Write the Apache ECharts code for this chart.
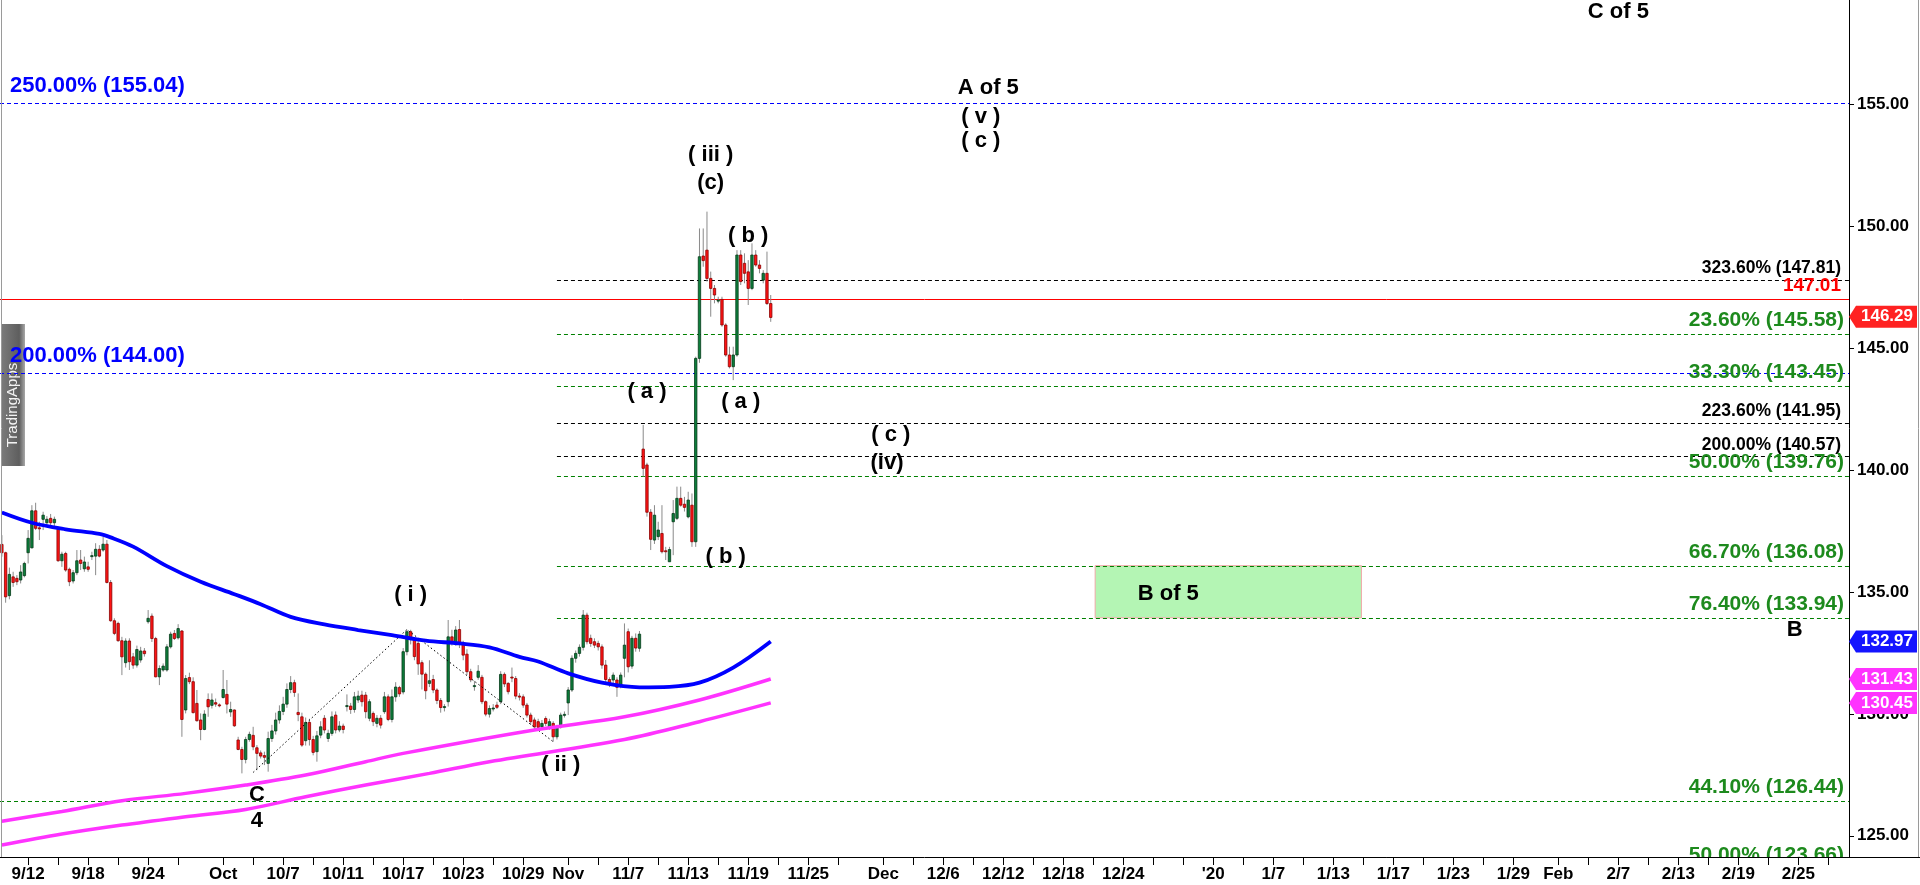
<!DOCTYPE html>
<html>
<head>
<meta charset="utf-8">
<script src="https://cdn.jsdelivr.net/npm/echarts@6/dist/echarts.min.js"></script>
<style>
html,body{margin:0;padding:0;background:#ffffff;}
#chart{width:1920px;height:885px;}
</style>
</head>
<body>
<div id="chart"></div>
<script>
const FONT = '"Liberation Sans", Arial, Helvetica, sans-serif';
const SLOTS = 493;          // 4 bar slots per trading day
const FIRST_DAY_SLOT = 7;   // first bar of 9/12
const BARS_PER_DAY = 4;

// ---- x axis (trading-day indices counted from 9/12) ----
const xLabels = ['9/12','9/18','9/24','Oct','10/7','10/11','10/17','10/23','10/29','Nov','11/7','11/13','11/19','11/25','Dec','12/6','12/12','12/18','12/24',"'20",'1/7','1/13','1/17','1/23','1/29','Feb','2/7','2/13','2/19','2/25'];
const xLabelDays = [0,4,8,13,17,21,25,29,33,36,40,44,48,52,57,61,65,69,73,79,83,87,91,95,99,102,106,110,114,118];
const xExtraTickDays = [2,6,10,15,19,23,27,31,38,42,46,50,54,59,63,67,71,75,77,81,85,89,93,97,104,108,112,116,120];

// ---- price bars: [open, high, low, close], one per slot from slot 0 ----
const ohlc = [
[136.95,137.33,136.45,136.61],[136.61,136.65,134.56,134.80],[134.85,136.00,134.70,135.72],[135.62,135.83,135.21,135.39],
[135.56,135.69,135.28,135.42],[135.49,136.10,135.35,135.82],[135.67,136.24,135.60,136.17],[136.61,137.54,136.17,137.20],
[136.81,138.56,136.79,138.33],[138.33,138.66,137.54,137.61],[137.63,137.88,137.13,137.60],[137.98,138.29,137.54,138.15],
[137.84,138.11,137.68,137.98],[138.02,138.20,137.74,137.84],[137.84,138.09,137.68,137.98],[137.57,137.68,136.24,136.28],
[136.28,136.65,136.03,136.55],[136.58,136.65,135.83,135.90],[135.93,136.00,135.24,135.42],[135.45,135.90,135.35,135.79],
[135.79,136.72,135.69,136.28],[136.31,136.72,135.90,136.17],[135.95,136.45,135.83,136.23],[136.03,136.24,135.83,135.93],
[136.46,136.65,136.31,136.49],[136.47,137.00,135.69,136.75],[136.75,136.92,136.42,136.47],[136.72,137.27,136.65,136.96],
[136.96,137.13,135.35,135.39],[135.39,135.49,133.78,133.82],[133.82,133.92,133.23,133.30],[133.71,133.78,132.96,133.00],
[133.00,133.16,131.59,132.34],[132.10,133.10,131.90,132.99],[132.99,133.10,131.80,132.14],[132.34,132.50,131.85,132.00],
[132.00,132.80,131.90,132.64],[132.21,132.75,132.10,132.58],[132.58,132.70,132.35,132.47],[133.78,134.26,133.70,133.92],
[134.01,134.12,132.95,133.09],[133.09,133.16,131.50,131.52],[131.52,131.99,131.18,131.86],[131.80,132.07,131.73,131.96],
[131.80,132.86,131.73,132.75],[132.75,133.37,132.68,133.27],[133.30,133.44,133.03,133.09],[133.12,133.68,133.05,133.50],
[133.40,133.44,129.06,129.77],[130.16,131.59,130.02,131.45],[131.49,131.69,131.22,131.32],[131.32,131.50,130.02,130.05],
[130.43,130.98,129.68,129.72],[129.75,130.02,128.92,129.36],[129.36,130.15,129.33,129.99],[130.59,130.84,129.88,130.29],
[130.35,130.84,130.22,130.57],[130.46,130.63,130.29,130.40],[130.37,130.43,130.27,130.33],[130.67,131.80,130.63,131.00],
[130.80,131.39,130.02,130.40],[130.08,130.50,129.88,130.18],[130.16,130.18,129.47,129.51],[128.93,129.06,128.51,128.54],
[128.54,128.65,127.56,128.13],[128.13,129.06,127.97,128.95],[128.95,129.27,128.86,129.16],[129.12,129.47,128.51,128.65],
[128.61,128.72,127.69,128.38],[128.40,128.50,128.17,128.27],[128.29,128.45,127.90,128.22],[127.97,129.27,127.63,128.99],
[128.99,129.55,128.85,129.30],[129.30,130.05,129.15,129.75],[129.75,130.35,129.60,130.10],[130.10,130.70,129.95,130.40],
[130.40,131.25,130.25,131.00],[131.00,131.55,130.85,131.28],[131.28,131.40,130.70,130.88],[130.06,130.84,129.70,129.97],
[129.88,130.05,128.65,128.72],[128.90,129.85,128.70,129.65],[129.65,129.80,128.70,128.95],[128.95,129.10,128.30,128.42],
[128.45,129.30,128.04,129.10],[129.13,129.70,129.00,129.47],[129.82,129.95,129.20,129.34],[128.99,129.35,128.85,129.20],
[129.20,130.10,129.10,129.88],[129.95,130.10,129.20,129.34],[129.34,129.70,129.25,129.50],[129.50,129.60,129.20,129.36],
[130.30,130.80,130.10,130.34],[130.32,130.45,130.00,130.18],[130.18,130.90,130.05,130.70],[130.57,130.95,130.45,130.73],
[130.77,130.95,130.30,130.50],[130.77,130.90,129.82,130.09],[129.82,130.60,129.70,130.50],[130.02,130.10,129.50,129.68],
[129.61,129.95,129.45,129.82],[129.82,129.95,129.40,129.54],[130.09,130.90,130.00,130.70],[130.70,130.80,129.70,129.77],
[129.77,131.00,129.65,130.70],[130.70,131.30,130.50,131.10],[131.08,131.15,130.70,130.82],[130.90,132.70,130.80,132.55],
[132.55,133.45,132.40,133.37],[133.37,133.45,132.85,133.05],[133.05,133.10,132.20,132.35],[132.89,133.00,131.60,132.05],
[132.10,132.20,131.00,131.63],[131.63,131.70,130.60,130.95],[131.25,132.20,131.10,131.36],[131.41,131.60,130.85,130.98],
[130.98,131.05,130.40,130.55],[130.55,130.65,130.05,130.26],[130.26,130.40,130.10,130.30],[130.50,133.85,130.30,133.16],
[133.16,133.45,132.80,132.89],[132.89,133.60,132.80,133.44],[133.46,133.85,132.70,132.89],[132.89,133.00,132.20,132.41],
[132.45,132.65,131.60,131.73],[131.73,131.85,131.30,131.40],[131.13,131.35,130.95,131.16],[131.50,132.00,131.40,131.75],
[131.50,131.60,130.40,130.50],[130.50,130.55,129.90,129.99],[129.99,130.35,129.85,130.22],[130.22,130.40,130.10,130.24],
[130.36,130.50,130.20,130.27],[130.50,131.75,130.40,131.62],[131.62,131.70,131.10,131.23],[131.25,131.30,130.80,130.91],
[131.51,131.90,131.30,131.47],[131.45,131.55,130.60,130.73],[130.73,130.85,130.55,130.70],[130.70,130.80,130.25,130.36],
[130.36,130.45,129.85,129.95],[129.95,130.05,129.55,129.68],[129.75,129.85,129.35,129.47],[129.68,129.80,129.30,129.45],
[129.47,129.75,129.35,129.61],[129.81,129.90,129.50,129.61],[129.47,129.80,129.35,129.68],[129.61,129.70,128.86,129.06],
[129.06,129.55,128.95,129.47],[129.47,130.05,129.40,129.95],[129.95,130.10,129.85,129.98],[130.45,131.10,129.95,130.98],
[130.98,132.40,130.90,132.28],[132.28,132.60,132.10,132.48],[132.48,132.85,132.35,132.73],[132.73,134.26,132.60,134.05],
[134.05,134.15,132.85,132.96],[133.10,133.25,132.75,132.89],[132.96,133.10,132.70,132.82],[132.89,133.00,132.60,132.75],
[132.75,132.85,131.85,132.00],[132.00,132.21,131.30,131.41],[131.41,131.50,131.10,131.22],[131.39,131.70,131.25,131.59],
[131.39,131.50,130.70,131.09],[131.18,131.70,131.05,131.59],[132.28,133.71,131.50,132.82],[133.37,133.50,131.70,131.93],
[131.96,133.20,131.85,133.10],[133.10,133.30,132.55,132.70],[132.69,133.40,132.55,133.27],[140.86,141.85,139.73,140.07],
[140.21,140.30,138.09,138.27],[138.27,138.40,136.72,137.16],[137.13,138.56,136.97,138.15],[137.27,137.88,137.13,137.54],
[137.40,138.56,136.58,136.65],[136.69,136.85,136.31,136.65],[136.24,136.85,136.24,136.74],[137.88,138.77,136.51,138.22],
[138.02,139.32,137.95,138.84],[138.84,139.32,138.50,138.56],[138.60,138.90,138.30,138.47],[138.08,139.11,138.02,138.77],
[138.56,139.04,136.85,137.06],[137.06,144.65,136.85,144.58],[144.58,149.91,144.40,148.75],[148.78,149.91,148.34,148.59],
[149.02,150.60,147.73,147.86],[147.86,148.14,146.29,147.45],[147.45,147.59,146.84,147.18],[146.94,147.11,146.84,146.97],
[147.00,147.11,145.88,145.95],[145.95,146.02,144.65,144.72],[144.72,145.06,144.17,144.24],[144.24,145.06,143.69,144.72],
[144.72,149.02,144.65,148.82],[148.82,149.02,147.59,147.73],[148.48,148.89,147.66,148.07],[148.13,148.61,146.77,147.45],
[147.45,149.30,147.38,148.82],[148.82,149.02,148.34,148.41],[148.41,148.61,148.07,148.27],[147.79,148.20,147.66,148.07],
[148.07,148.96,146.77,146.83],[146.83,147.18,146.08,146.26]
];

// ---- moving averages, read at sample slots: [slot, value] ----
const maBlue = [[0,138.26],[8,137.84],[17,137.57],[26,137.38],[29,137.24],[35,136.86],[44,136.06],[53,135.42],[62,134.91],[69,134.50],[77,133.98],[86,133.67],[95,133.44],[104,133.23],[113,133.00],[122,132.89],[130,132.73],[138,132.34],[143,132.15],[151,131.66],[160,131.28],[170,131.09],[178,131.11],[186,131.28],[195,131.90],[205,132.97]];
const maMagentaUpper = [[0,125.60],[16,126.00],[32,126.44],[49,126.74],[65,127.08],[81,127.49],[97,128.04],[107,128.38],[142,129.34],[166,129.88],[186,130.57],[205,131.43]];
const maMagentaLower = [[0,124.62],[16,125.07],[32,125.44],[49,125.78],[65,126.08],[81,126.60],[97,127.08],[114,127.56],[130,128.04],[166,128.95],[186,129.68],[205,130.45]];

// ---- dotted wave sketch ----
const waveLine = [[67,127.60],[108,133.46],[147,128.86]];

// ---- horizontal levels ----
const levelValues = [155.04,144.00,147.81,147.01,145.58,143.45,141.95,140.57,139.76,136.08,133.94,126.44,123.66];
const levelStarts = [0,0,148,0,148,148,148,148,148,148,148,0,148];
const levelKinds  = ['blue','blue','black','red','green','green','black','black','green','green','green','green','green'];
const levelLabels = ['250.00% (155.04)','200.00% (144.00)','323.60% (147.81)','147.01','23.60% (145.58)','33.30% (143.45)','223.60% (141.95)','200.00% (140.57)','50.00% (139.76)','66.70% (136.08)','76.40% (133.94)','44.10% (126.44)','50.00% (123.66)'];

// ---- wave annotations ----
const annoTexts  = ['C of 5','A of 5','( v )','( c )','( iii )','(c)','( b )','( a )','( a )','( c )','(iv)','( b )','( i )','( ii )','C','4','B','B of 5'];
const annoSlots  = [431,263,261,261,189,189,199,172,197,237,236,193,109,149,68,68,478,311];
const annoValues = [158.77,155.67,154.50,153.51,152.92,151.79,149.62,143.21,142.80,141.46,140.30,136.44,134.89,127.90,126.67,125.61,133.44,134.90];

// ---- target zone ----
const zoneFrom = [292], zoneTo = [363], zoneTop = [136.08], zoneBottom = [133.94];

// ---- price tags on the axis ----
const tagValues = [146.29,132.97,131.43,130.45];
const tagColors = ['#ff2222','#1414ff','#ff33ff','#ff33ff'];

// ---------------------------------------------------------------
const labelBySlot = {};
xLabelDays.forEach((d,i)=>{ labelBySlot[FIRST_DAY_SLOT + BARS_PER_DAY*d] = xLabels[i]; });
const tickSlots = new Set(xLabelDays.concat(xExtraTickDays).map(d=>FIRST_DAY_SLOT + BARS_PER_DAY*d));
const categories = Array.from({length:SLOTS},(_,i)=>String(i));

const KIND = {
  blue:  {stroke:'#0000ff', dash:[4,3], text:'#0000ff', size:22, off:17, side:'left'},
  black: {stroke:'#000000', dash:[4,3], text:'#000000', size:17.5, off:11.5, side:'right'},
  red:   {stroke:'#ff0000', dash:null, text:'#ff0000', size:19, off:13.6, side:'right'},
  green: {stroke:'#008000', dash:[4,3], text:'#1d8a1d', size:21, off:13.5, side:'right'}
};

function renderLevel(params, api){
  const i = params.dataIndex;
  const cs = params.coordSys;
  const k = KIND[levelKinds[i]];
  const p = api.coord([levelStarts[i], levelValues[i]]);
  const x1 = levelStarts[i] === 0 ? cs.x : p[0];
  const x2 = cs.x + cs.width;
  const y = Math.round(p[1]) + 0.5;
  const children = [{
    type:'line', shape:{x1:x1, y1:y, x2:x2, y2:y},
    style:{stroke:k.stroke, lineWidth:1, lineDash:k.dash || null}
  }];
  if (k.side === 'left') {
    children.push({type:'text', x: cs.x + 10, y: p[1] - k.off,
      style:{text:levelLabels[i], fill:k.text, fontSize:k.size, fontWeight:'bold', fontFamily:FONT, align:'left', verticalAlign:'middle'}});
  } else {
    children.push({type:'text', x: x2 - (levelKinds[i]==='green'?5:8), y: p[1] - k.off,
      style:{text:levelLabels[i], fill:k.text, fontSize:k.size, fontWeight:'bold', fontFamily:FONT, align:'right', verticalAlign:'middle'}});
  }
  return {type:'group', children};
}

function renderCandle(params, api){
  const x = api.value(0);
  const o = api.value(1), h = api.value(2), l = api.value(3), c = api.value(4);
  const po = api.coord([x,o]), pc = api.coord([x,c]), ph = api.coord([x,h]), pl = api.coord([x,l]);
  const cx = po[0];
  const up = c >= o;
  const top = Math.min(po[1], pc[1]);
  const hgt = Math.max(Math.abs(po[1]-pc[1]), 1);
  return {type:'group', children:[
    {type:'line', shape:{x1:cx, y1:ph[1], x2:cx, y2:pl[1]}, style:{stroke:'#8a8a8a', lineWidth:1}},
    {type:'rect', shape:{x:cx-1.2, y:top, width:2.4, height:hgt},
     style:{fill: up ? '#0d7f3c' : '#ff1414', stroke: up ? '#053a18' : '#8a0000', lineWidth:0.8}}
  ]};
}

function renderAnno(params, api){
  const i = params.dataIndex;
  const p = api.coord([api.value(0), api.value(1)]);
  return {type:'text', x:p[0], y:p[1],
    style:{text:annoTexts[i], fill:'#000', fontSize:22, fontWeight:'bold', fontFamily:FONT, align:'center', verticalAlign:'middle'}};
}

function renderZone(params, api){
  const a = api.coord([api.value(0), api.value(1)]);
  const b = api.coord([api.value(2), api.value(3)]);
  const half = api.size([1,0])[0] / 2;
  return {type:'rect', shape:{x:a[0]-half, y:a[1], width:(b[0]-a[0]), height:b[1]-a[1]},
    style:{fill:'#b4f5b4', stroke:'#f0a8a8', lineWidth:1}};
}

function renderTag(params, api){
  const i = params.dataIndex;
  const cs = params.coordSys;
  const p = api.coord([0, api.value(1)]);
  const xr = cs.x + cs.width;
  const y = p[1];
  return {type:'group', children:[
    {type:'polygon', shape:{points:[[xr,y],[xr+7,y-11],[xr+68,y-11],[xr+68,y+11],[xr+7,y+11]]},
     style:{fill:tagColors[i]}},
    {type:'text', x:xr+38, y:y,
     style:{text:tagValues[i].toFixed(2), fill:'#fff', fontSize:17, fontWeight:'bold', fontFamily:FONT, align:'center', verticalAlign:'middle'}}
  ]};
}

const chart = echarts.init(document.getElementById('chart'), null, {renderer:'canvas'});
chart.setOption({
  animation:false,
  backgroundColor:'#ffffff',
  grid:{left:0, right:71, top:0, bottom:28, containLabel:false, outerBoundsMode:'none'},
  xAxis:{
    type:'category', data:categories, boundaryGap:true,
    axisLine:{show:true, lineStyle:{color:'#000', width:1}},
    axisTick:{show:true, alignWithLabel:true, length:8, interval:(i)=>tickSlots.has(i), lineStyle:{color:'#000'}},
    axisLabel:{show:true, interval:(i)=>labelBySlot[i]!==undefined, formatter:(v,i)=>labelBySlot[i]||'',
      color:'#000', fontWeight:'bold', fontSize:17, fontFamily:FONT, margin:9},
    splitLine:{show:false}
  },
  yAxis:{
    type:'value', position:'right', min:124.13, max:159.28, minInterval:5, maxInterval:5,
    axisLine:{show:true, lineStyle:{color:'#000', width:1}},
    axisTick:{show:true, length:5, lineStyle:{color:'#000'}},
    axisLabel:{color:'#000', fontWeight:'bold', fontSize:17, fontFamily:FONT, margin:8,
      showMinLabel:false, showMaxLabel:false, formatter:(v)=>v.toFixed(2)},
    splitLine:{show:false}
  },
  series:[
    {type:'custom', name:'zone', z:1, clip:true, renderItem:renderZone,
     data: zoneFrom.map((f,i)=>[f, zoneTop[i], zoneTo[i], zoneBottom[i]]), encode:{x:[0,2], y:[1,3]}},
    {type:'custom', name:'levels', z:1, clip:true, renderItem:renderLevel,
     data: levelValues.map((v,i)=>[levelStarts[i], v]), encode:{x:0, y:1}},
    {type:'custom', name:'bars', z:2, renderItem:renderCandle,
     data: ohlc.map((d,i)=>[i, d[0], d[1], d[2], d[3]]), encode:{x:0, y:[1,2,3,4]}},
    {type:'line', name:'wave', z:3, data:waveLine, symbol:'none', silent:true,
     lineStyle:{color:'#000', width:1, type:[1.5,2.5]}},
    {type:'line', name:'ma1', z:4, data:maBlue, symbol:'none', smooth:0.35, silent:true,
     lineStyle:{color:'#0000ff', width:3.8}},
    {type:'line', name:'ma2', z:4, data:maMagentaUpper, symbol:'none', smooth:0.35, silent:true,
     lineStyle:{color:'#ff33ff', width:3.5}},
    {type:'line', name:'ma3', z:4, data:maMagentaLower, symbol:'none', smooth:0.35, silent:true,
     lineStyle:{color:'#ff33ff', width:3.5}},
    {type:'custom', name:'anno', z:5, renderItem:renderAnno,
     data: annoSlots.map((s,i)=>[s, annoValues[i]]), encode:{x:0, y:1}},
    {type:'custom', name:'tags', z:6, clip:false, renderItem:renderTag,
     data: tagValues.map(v=>[0, v]), encode:{x:0, y:1}}
  ],
  graphic:[
    {type:'line', z:50, shape:{x1:1.5, y1:0, x2:1.5, y2:857}, style:{stroke:'#9a9a9a', lineWidth:1}},
    {type:'line', z:50, shape:{x1:1849, y1:857.5, x2:1920, y2:857.5}, style:{stroke:'#000', lineWidth:1}},
    {type:'line', z:50, shape:{x1:1918.5, y1:0, x2:1918.5, y2:857}, style:{stroke:'#9a9a9a', lineWidth:1}},
    {type:'rect', z:0, shape:{x:2, y:324, width:23, height:142},
     style:{fill:{type:'linear', x:0, y:0, x2:1, y2:0, colorStops:[{offset:0,color:'#7a7a7a'},{offset:0.75,color:'#5e5e5e'},{offset:1,color:'#a8a8a8'}]}}},
    {type:'text', z:0, x:13, y:405, rotation:Math.PI/2,
     style:{text:'TradingApps', fill:'#f2f2f2', fontSize:15, fontFamily:FONT, align:'center', verticalAlign:'middle'}}
  ]
});
</script>
</body>
</html>
